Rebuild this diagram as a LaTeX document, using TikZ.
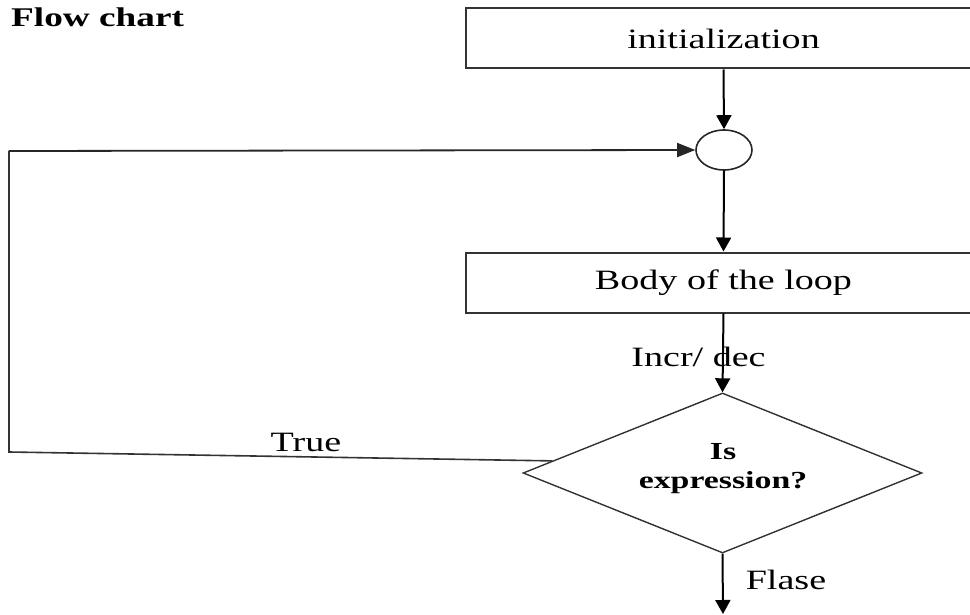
\documentclass[tikz,border=0pt]{standalone}
\usepackage{fontspec}
\setmainfont{Liberation Serif}
\usetikzlibrary{shapes.geometric,arrows.meta,calc}
% Horizontally widened text
\newcommand{\wtext}[2][1.36]{\scalebox{#1}[1]{#2}}
\tikzset{
  box/.style={draw=black!80, line width=2pt, rectangle, minimum width=515pt,
    minimum height=60pt, inner sep=0pt, font=\fontsize{28}{32}\selectfont},
  joint/.style={draw=black!85, line width=1.6pt, ellipse, minimum width=56pt,
    minimum height=40pt, inner sep=0pt},
  decision/.style={draw=black!80, line width=1.4pt, diamond, aspect=2.5,
    minimum width=399pt, minimum height=160pt, inner sep=0pt},
  flow/.style={draw=black, line width=2pt,
    -{Triangle[length=14pt,width=15pt]}},
  flowh/.style={draw=black!85, line width=1.8pt,
    -{Triangle[length=18pt,width=14pt]}},
  loopline/.style={draw=black!80, line width=1.6pt},
  lbl/.style={font=\fontsize{28}{32}\selectfont, inner sep=0pt},
  blbl/.style={font=\bfseries\fontsize{24.5}{28}\selectfont, inner sep=0pt},
}
\begin{document}
\begin{tikzpicture}[x=1pt,y=-1pt]
  \useasboundingbox (0,0) rectangle (970,615);
  \clip (0,0) rectangle (970,615);

  % heading
  \node[anchor=west, inner sep=0pt, font=\bfseries\fontsize{27}{31}\selectfont]
    (title) at (11,17) {\wtext[1.38]{Flow chart}};

  % blocks
  \node[box] (init) at (723.5,38.5) {\wtext{initialization}};
  \node[joint] (join) at (724,150) {};
  \node[box] (body) at (723.5,282.5) {\wtext{Body of the loop}};
  \node[decision] (dec) at (722.5,473) {};
  \node[blbl] (q1) at (723,452) {\wtext[1.38]{Is}};
  \node[blbl] (q2) at (723,483) {\wtext[1.38]{expression?}};

  % loop-back path
  \coordinate (tstart) at ($(dec.west)!0.15!(dec.north)$);
  \coordinate (c1) at (9,452);
  \coordinate (c2) at (9,151);
  \coordinate (exit) at (723,614);

  % connectors
  \draw[flow] (init.south) -- (join.north);
  \draw[flow] (join.south) -- (body.north);
  \draw[flow] (body.south) -- (dec.north);
  \draw[flow] (dec.south) -- (exit);
  \draw[loopline] (tstart) -- (c1) -- (c2);
  \draw[flowh] (c2) -- (join.west);

  % labels
  \node[lbl] (incr) at (698.5,357) {\wtext{Incr/ dec}};
  \node[lbl] (tru) at (306,442) {\wtext{True}};
  \node[lbl] (fls) at (786,580) {\wtext{Flase}};
\end{tikzpicture}
\end{document}
